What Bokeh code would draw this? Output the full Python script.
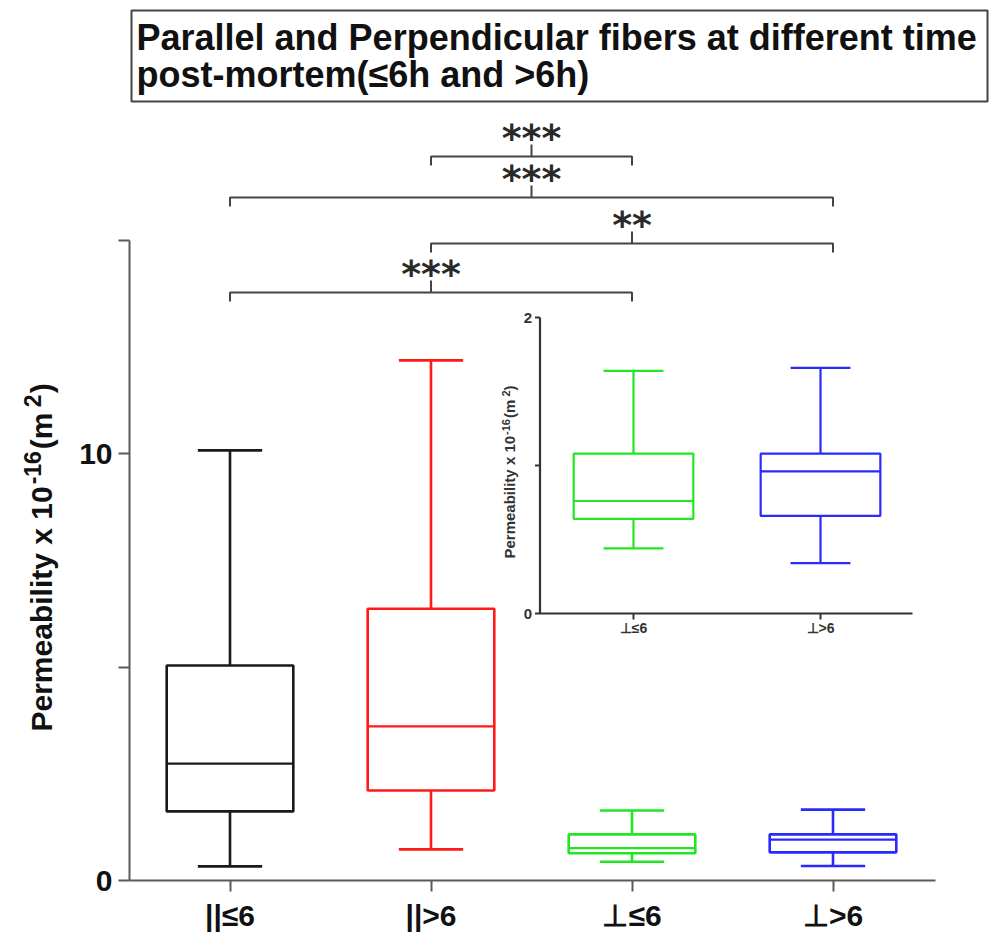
import math
from bokeh.plotting import figure
from bokeh.layouts import row
from bokeh.models import Range1d, FixedTicker, ColumnDataSource
from bokeh.core.properties import value
from bokeh.embed import file_html
from bokeh.resources import INLINE

# ---------------- data ----------------
categories = ["||≤6", "||>6", "⊥≤6", "⊥>6"]
box_colors = ["#1a1a1a", "#ff1a1a", "#22e622", "#2a2aff"]
whisker_low = [0.33, 0.73, 0.44, 0.34]
q1 = [1.62, 2.11, 0.64, 0.66]
median = [2.74, 3.61, 0.76, 0.96]
q3 = [5.04, 6.37, 1.08, 1.08]
whisker_high = [10.08, 12.19, 1.64, 1.66]

inset_categories = ["⊥≤6", "⊥>6"]
inset_index = [2, 3]

comparisons = [(2, 3, "***"), (1, 4, "***"), (2, 4, "**"), (1, 3, "***")]

y_ticks = [0, 5, 10, 15]
y_tick_labels = {0: "0", 5: "", 10: "10", 15: ""}
inset_y_ticks = [0, 1, 2]
inset_y_tick_labels = ["0", "", "2"]

title_lines = ["Parallel and Perpendicular fibers at different time",
               "post-mortem(≤6h and >6h)"]
y_title_parts = ["Permeability x 10", "-16", " (m", "2", ")"]

# ---------------- layout (pixels) ----------------
W, H = 989, 939
LAB_W = 70                      # width of the strip holding the y-axis title
L, B = 129, 880                 # frame left / bottom in canvas px
PXU_X = 201.0                   # px per category
PXU_Y = 640.0 / 15.0            # px per unit
I_X1, I_Y0 = 633.0, 613.0       # inset: px of first category / of value 0
I_PXU_X, I_PXU_Y = 187.0, 148.0
BOX_W, CAP_W = 0.63, 0.32
FONT = "Liberation Sans"
ALPHA_FIX = 0.36                # em shift of rendered alphabetic baseline
AW = {"P": 667, "e": 556, "r": 389, "m": 889, "a": 556, "b": 611, "i": 278, "l": 278,
      "t": 333, "y": 556, " ": 278, "x": 556, "1": 556, "0": 556, "-": 333, "6": 556,
      "(": 333, "2": 556, ")": 333}


def dx(px):
    return 0.5 + (px - L) / PXU_X


def dy(py):
    return (B - py) / PXU_Y


def hy(npx):
    return npx / PXU_Y


def ix(px):
    return 1 + (px - I_X1) / I_PXU_X


def iy(py):
    return (I_Y0 - py) / I_PXU_Y


def rotated_pieces(parts, sizes, raises, start_py, base_px, gaps):
    """(px, py, text, size) for upward-running rotated text pieces."""
    out = []
    cur = start_py
    for txt, fs, rz, gap in zip(parts, sizes, raises, gaps):
        cur -= gap
        out.append((base_px - rz - ALPHA_FIX * fs, cur, txt, fs))
        cur -= sum(AW[c] for c in txt) / 1000 * fs
    return out


p = figure(width=W - LAB_W, height=H, output_backend="svg", toolbar_location=None,
           x_range=Range1d(0.5, dx(W)), y_range=Range1d(0, dy(0)),
           min_border_left=L - LAB_W, min_border_right=0, min_border_top=0,
           min_border_bottom=H - B)
p.grid.visible = False
p.outline_line_color = None
p.background_fill_color = "white"
p.border_fill_color = "white"

# ---- axes ----
ax_col = "#5a5a5a"
p.yaxis.ticker = FixedTicker(ticks=y_ticks)
p.yaxis.major_label_overrides = y_tick_labels
p.yaxis.bounds = (0, 15)
p.xaxis.ticker = FixedTicker(ticks=[1, 2, 3, 4])
p.xaxis.major_label_overrides = {i + 1: c for i, c in enumerate(categories)}
p.xaxis.bounds = (dx(117), dx(935))
for ax in (p.xaxis, p.yaxis):
    ax.axis_line_color = ax_col
    ax.axis_line_width = 2
    ax.major_tick_line_color = ax_col
    ax.major_tick_line_width = 2
    ax.major_tick_in = 0
    ax.major_tick_out = 11
    ax.minor_tick_line_color = None
    ax.major_label_text_font = FONT
    ax.major_label_text_font_style = "bold"
    ax.major_label_text_font_size = "30px"
    ax.major_label_text_color = "#111111"
p.yaxis.major_label_standoff = 6
p.xaxis.major_label_standoff = 7

# ---- main boxes ----
xs = [i + 1 for i in range(len(categories))]
src = ColumnDataSource(dict(
    x=xs, lo=whisker_low, q1=q1, med=median, q3=q3, hi=whisker_high,
    color=box_colors,
    bl=[x - BOX_W / 2 for x in xs], br=[x + BOX_W / 2 for x in xs],
    cl=[x - CAP_W / 2 for x in xs], cr=[x + CAP_W / 2 for x in xs]))
LW = 2.6
p.segment(x0="x", y0="q3", x1="x", y1="hi", line_color="color", line_width=LW, source=src)
p.segment(x0="x", y0="lo", x1="x", y1="q1", line_color="color", line_width=LW, source=src)
p.segment(x0="cl", y0="hi", x1="cr", y1="hi", line_color="color", line_width=LW, source=src)
p.segment(x0="cl", y0="lo", x1="cr", y1="lo", line_color="color", line_width=LW, source=src)
p.vbar(x="x", width=BOX_W, bottom="q1", top="q3", fill_color=None,
       line_color="color", line_width=LW, source=src)
p.segment(x0="bl", y0="med", x1="br", y1="med", line_color="color", line_width=LW - 0.4, source=src)

# ---- significance brackets ----
levels_px = [156, 197, 243, 292]
drop = hy(9)
stem = hy(12)
br_xs, br_ys, st_x, st_y = [], [], [], []
for (a, b, s), lp in zip(comparisons, levels_px):
    lev = dy(lp)
    br_xs.append([a, a, b, b])
    br_ys.append([lev - drop, lev, lev, lev - drop])
    mid = (a + b) / 2
    br_xs.append([mid, mid])
    br_ys.append([lev, lev + stem])
    st_x.append(mid)
    st_y.append(lev + hy(19))
p.multi_line(xs=br_xs, ys=br_ys, line_color="#444444", line_width=2)
p.text(x=st_x, y=st_y, text=[c[2] for c in comparisons], text_font=value("DejaVu Sans"),
       text_font_size="38px", text_font_style="bold", text_align="center",
       text_baseline="alphabetic", text_color="#2a2a2a")

# ---- inset (drawn on extra ranges) ----
p.extra_x_ranges = {"ix": Range1d(ix(L), ix(W))}
p.extra_y_ranges = {"iy": Range1d(iy(B), iy(0))}
ixs = [1, 2]
isrc = ColumnDataSource(dict(
    x=ixs,
    lo=[whisker_low[i] for i in inset_index], q1=[q1[i] for i in inset_index],
    med=[median[i] for i in inset_index], q3=[q3[i] for i in inset_index],
    hi=[whisker_high[i] for i in inset_index], color=[box_colors[i] for i in inset_index],
    bl=[x - 0.32 for x in ixs], br=[x + 0.32 for x in ixs],
    cl=[x - 0.16 for x in ixs], cr=[x + 0.16 for x in ixs]))
kw = dict(x_range_name="ix", y_range_name="iy")
ILW = 2.2
p.segment(x0="x", y0="q3", x1="x", y1="hi", line_color="color", line_width=ILW, source=isrc, **kw)
p.segment(x0="x", y0="lo", x1="x", y1="q1", line_color="color", line_width=ILW, source=isrc, **kw)
p.segment(x0="cl", y0="hi", x1="cr", y1="hi", line_color="color", line_width=ILW, source=isrc, **kw)
p.segment(x0="cl", y0="lo", x1="cr", y1="lo", line_color="color", line_width=ILW, source=isrc, **kw)
p.vbar(x="x", width=0.64, bottom="q1", top="q3", fill_color=None,
       line_color="color", line_width=ILW, source=isrc, **kw)
p.segment(x0="bl", y0="med", x1="br", y1="med", line_color="color", line_width=ILW, source=isrc, **kw)

iax = "#333333"
u0 = 0.5
p.segment(x0=[u0, u0], y0=[0, 0], x1=[u0, ix(912)], y1=[2, 0],
          line_color=iax, line_width=2.2, **kw)
tk = 5 / I_PXU_X
p.segment(x0=[u0] * 3, y0=inset_y_ticks, x1=[u0 - tk] * 3, y1=inset_y_ticks,
          line_color=iax, line_width=2, **kw)
p.segment(x0=ixs, y0=[0, 0], x1=ixs, y1=[-6 / I_PXU_Y] * 2, line_color=iax, line_width=2, **kw)
p.text(x=[u0 - 8 / I_PXU_X] * 3, y=inset_y_ticks, text=inset_y_tick_labels,
       text_font=value(FONT), text_font_style="bold", text_font_size="15px",
       text_align="right", text_baseline="middle", text_color=iax, **kw)
p.text(x=ixs, y=[-6 / I_PXU_Y] * 2, text=inset_categories,
       text_font=value(FONT), text_font_style="bold", text_font_size="14px",
       text_align="center", text_baseline="top", text_color=iax, **kw)

ilab = rotated_pieces(y_title_parts, [15, 11, 15, 11, 15], [0, 5, 0, 5, 0],
                      558, 514, [0, 1, 1, -1, 0])
p.text(x=[ix(a) for a, _, _, _ in ilab], y=[iy(b) for _, b, _, _ in ilab],
       text=[t for _, _, t, _ in ilab], text_font_size=[f"{s}px" for *_, s in ilab],
       angle=[math.pi / 2] * len(ilab), text_font=value(FONT), text_font_style="bold",
       text_align="left", text_baseline="alphabetic", text_color=iax, **kw)

# ---- title box ----
p.quad(left=[dx(131)], right=[dx(987)], top=[dy(10)], bottom=[dy(101)],
       fill_color="white", line_color="#444444", line_width=2)
p.text(x=[dx(136)] * 2, y=[dy(50 - ALPHA_FIX * 36), dy(87 - ALPHA_FIX * 36)], text=title_lines,
       text_font=value(FONT), text_font_style="bold",
       text_font_size="36px", text_align="left", text_baseline="alphabetic",
       text_color="#111111")

# ---- strip on the left with the main y-axis title (pixel coordinates) ----
lab = figure(width=LAB_W, height=H, output_backend="svg", toolbar_location=None,
             x_range=Range1d(0, LAB_W), y_range=Range1d(B, 0),
             x_axis_type=None, y_axis_type=None, min_border_left=0, min_border_right=0,
             min_border_top=0, min_border_bottom=H - B)
lab.grid.visible = False
lab.outline_line_color = None
lab.background_fill_color = "white"
lab.border_fill_color = "white"
mlab = rotated_pieces(y_title_parts, [30, 23, 30, 23, 30], [0, 12, 0, 12, 0],
                      731, 52, [0, 2, 2, -3, 1])
lab.text(x=[a for a, _, _, _ in mlab], y=[b for _, b, _, _ in mlab],
         text=[t for _, _, t, _ in mlab], text_font_size=[f"{s}px" for *_, s in mlab],
         angle=[math.pi / 2] * len(mlab), text_font=value(FONT), text_font_style="bold",
         text_align="left", text_baseline="alphabetic", text_color="#111111")

layout = row(lab, p, spacing=0)
open("out.html", "w").write(file_html(layout, INLINE))
